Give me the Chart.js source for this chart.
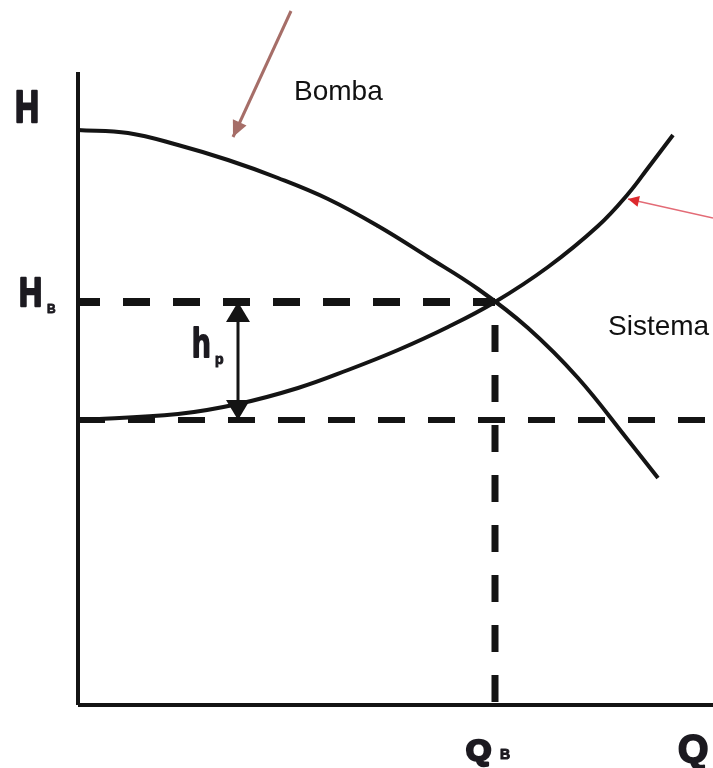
<!DOCTYPE html>
<html>
<head>
<meta charset="utf-8">
<script src="https://cdn.jsdelivr.net/npm/chart.js@4/dist/chart.umd.min.js"></script>
<style>
  html, body { margin: 0; padding: 0; background: #fff; }
  #wrap { width: 713px; height: 768px; }
</style>
</head>
<body>
<div id="wrap"><canvas id="chart" width="713" height="768"></canvas></div>
<script>
'use strict';

// pump curve (Bomba): head H against flow Q
let pumpQ = [0, 10, 20, 30, 40, 50, 60, 70, 80, 90, 100, 110, 116];
let pumpH = [115, 114.4, 112, 109, 105.4, 101.2, 95.8, 89.6, 83.2, 75.4, 65.4, 53, 45.4];

// system curve (Sistema)
let sysQ = [0, 20, 32, 44, 54, 64, 74, 83.4, 94, 104, 110, 114, 119];
let sysH = [57, 58.2, 60.2, 63.4, 67, 71, 75.6, 80.6, 87.6, 95.8, 102.2, 107.4, 114];

// operating point and static head
let qB = 83.4;
let hB = 80.6;
let h0 = 57;

// axis extents
let qMax = 127;
let hMax = 141;
let axisTop = 126.6;

// pointer arrows next to the curve names
let bombaArrow = [[42.6, 138.8], [31, 113.6]];
let sistemaArrow = [[127, 97.4], [110, 101.2]];

const INK = '#141414';

function pts(xs, ys) {
  return xs.map((x, i) => ({ x: x, y: ys[i] }));
}

function seg(pairs) {
  return pairs.map(p => ({ x: p[0], y: p[1] }));
}

function lineSet(data, extra) {
  return Object.assign({
    data: data,
    borderColor: INK,
    borderWidth: 4,
    pointRadius: 0,
    fill: false,
    clip: false,
    tension: 0
  }, extra);
}

// filled triangular heads on the ends of a dataset's line
const arrowPlugin = {
  id: 'arrowHeads',
  afterDatasetsDraw(chart) {
    let ctx = chart.ctx;
    chart.data.datasets.forEach((ds, i) => {
      if (!ds.arrowHeads) return;
      let pts = chart.getDatasetMeta(i).data;
      let a = ds.arrowHeads;
      let heads = [];
      if (a.end) heads.push([pts[pts.length - 1], pts[pts.length - 2]]);
      if (a.start) heads.push([pts[0], pts[1]]);
      heads.forEach(h => {
        let tip = h[0], from = h[1];
        let ang = Math.atan2(tip.y - from.y, tip.x - from.x);
        ctx.save();
        ctx.translate(tip.x, tip.y);
        ctx.rotate(ang);
        ctx.beginPath();
        ctx.moveTo(0, 0);
        ctx.lineTo(-a.length, a.width / 2);
        ctx.lineTo(-a.length, -a.width / 2);
        ctx.closePath();
        ctx.fillStyle = a.color;
        ctx.fill();
        ctx.restore();
      });
    });
  }
};

// heavy glyphs: fill plus a thin stroke to fatten them
function drawText(ctx, text, x, y, font, sx, heavy) {
  ctx.save();
  ctx.translate(x, y);
  ctx.scale(sx || 1, 1);
  ctx.font = font;
  ctx.fillText(text, 0, 0);
  if (heavy) {
    ctx.lineWidth = heavy;
    ctx.lineJoin = 'round';
    ctx.strokeStyle = ctx.fillStyle;
    ctx.strokeText(text, 0, 0);
  }
  ctx.restore();
}

const labelPlugin = {
  id: 'curveLabels',
  afterDraw(chart) {
    let ctx = chart.ctx;
    let xs = chart.scales.x, ys = chart.scales.y;
    let fam = '"Liberation Sans", Arial, sans-serif';
    ctx.save();
    ctx.fillStyle = '#1c1a20';
    ctx.textBaseline = 'alphabetic';
    ctx.textAlign = 'left';

    // axis titles
    drawText(ctx, 'H', 15, 122, 'bold 45px ' + fam, 0.74, 2.5);
    drawText(ctx, 'Q', 678, 762, 'bold 39px ' + fam, 1, 2);

    // H_B on the operating head
    let yB = ys.getPixelForValue(hB);
    drawText(ctx, 'H', 19, yB + 4, 'bold 41px ' + fam, 0.78, 2.5);
    drawText(ctx, 'B', 47, yB + 11, 'bold 12px ' + fam, 1, 0.8);

    // Q_B under the operating flow
    let xB = xs.getPixelForValue(qB);
    drawText(ctx, 'Q', xB - 29, 760, 'bold 29px ' + fam, 1.12, 2.5);
    drawText(ctx, 'B', xB + 5, 759, 'bold 14px ' + fam, 1, 1);

    // h_p beside the double arrow
    let xP = xs.getPixelForValue(32);
    drawText(ctx, 'h', xP - 46, 357, 'bold 40px ' + fam, 0.76, 2);
    drawText(ctx, 'p', xP - 23, 364, 'bold 14px ' + fam, 1, 1);

    // curve names
    ctx.fillStyle = '#111';
    drawText(ctx, 'Bomba', 294, 100, '28px ' + fam, 1);
    drawText(ctx, 'Sistema', 608, 335, '28px ' + fam, 1);
    ctx.restore();
  }
};

let config = {
  type: 'line',
  data: {
    datasets: [
      lineSet(pts(pumpQ, pumpH), { tension: 0.4 }),
      lineSet(pts(sysQ, sysH), { tension: 0.4 }),
      // axes
      lineSet(seg([[0, 0], [0, axisTop]]), { borderWidth: 4 }),
      lineSet(seg([[0, 0], [qMax, 0]]), { borderWidth: 4 }),
      // dashed guides
      lineSet(seg([[0, hB], [qB, hB]]), {
        borderWidth: 8, borderDash: [27, 23], borderDashOffset: 5, borderCapStyle: 'butt'
      }),
      lineSet(seg([[0, h0], [qMax, h0]]), {
        borderWidth: 6, borderDash: [27, 23], borderDashOffset: 0, borderCapStyle: 'butt'
      }),
      lineSet(seg([[qB, hB], [qB, 0]]), {
        borderWidth: 7, borderDash: [27, 23], borderDashOffset: 27, borderCapStyle: 'butt'
      }),
      // h_p double arrow
      lineSet(seg([[32, hB], [32, h0]]), {
        borderWidth: 3,
        arrowHeads: { start: true, end: true, length: 20, width: 24, color: INK }
      }),
      // pointers to the curves
      lineSet(seg(bombaArrow), {
        borderWidth: 3, borderColor: '#a66e68',
        arrowHeads: { end: true, length: 16, width: 15, color: '#a66e68' }
      }),
      lineSet(seg(sistemaArrow), {
        borderWidth: 1.5, borderColor: '#e36b76',
        arrowHeads: { end: true, length: 11, width: 11, color: '#dd2a2e' }
      })
    ]
  },
  options: {
    responsive: false,
    animation: false,
    layout: { padding: { left: 78, right: 0, top: 0, bottom: 63 } },
    plugins: {
      legend: { display: false },
      tooltip: { enabled: false }
    },
    scales: {
      x: { type: 'linear', min: 0, max: qMax, display: false },
      y: { type: 'linear', min: 0, max: hMax, display: false }
    }
  },
  plugins: [arrowPlugin, labelPlugin]
};

let canvasElem = document.getElementById('chart');
new Chart(canvasElem, config);
</script>
</body>
</html>
